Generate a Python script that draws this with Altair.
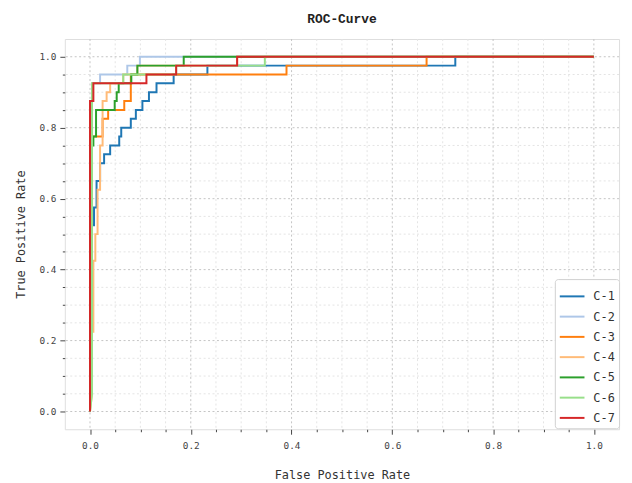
import altair as alt
import pandas as pd

classes = ["C-1", "C-2", "C-3", "C-4", "C-5", "C-6", "C-7"]
colors = ["#1f77b4", "#aec7e8", "#ff7f0e", "#ffbb78", "#2ca02c", "#98df8a", "#d62728"]

fpr_c1 = [0, 0.004, 0.004, 0.008, 0.008, 0.013, 0.013, 0.02, 0.02, 0.028, 0.028, 0.040, 0.040, 0.058, 0.058,
          0.062, 0.062, 0.081, 0.081, 0.091, 0.091, 0.104, 0.104, 0.117, 0.117, 0.132, 0.132, 0.166, 0.166,
          0.233, 0.233, 0.725, 0.725, 1.0]
tpr_c1 = [0, 0.225, 0.525, 0.525, 0.575, 0.575, 0.65, 0.65, 0.7, 0.7, 0.725, 0.725, 0.75, 0.75, 0.775,
          0.775, 0.8, 0.8, 0.825, 0.825, 0.85, 0.85, 0.875, 0.875, 0.9, 0.9, 0.925, 0.925, 0.95,
          0.95, 0.975, 0.975, 1.0, 1.0]

fpr_c2 = [0, 0.004, 0.004, 0.020, 0.020, 0.074, 0.074, 0.099, 0.099, 1.0]
tpr_c2 = [0, 0.225, 0.925, 0.925, 0.95, 0.95, 0.975, 0.975, 1.0, 1.0]

fpr_c3 = [0, 0, 0.025, 0.025, 0.036, 0.036, 0.068, 0.068, 0.081, 0.081, 0.39, 0.39, 0.668, 0.668, 1.0]
tpr_c3 = [0, 0.775, 0.775, 0.825, 0.825, 0.85, 0.85, 0.875, 0.875, 0.95, 0.95, 0.975, 0.975, 1.0, 1.0]

fpr_c4 = [0, 0.004, 0.004, 0.0067, 0.0067, 0.0106, 0.0106, 0.015, 0.015, 0.02, 0.02, 0.025, 0.025, 0.033,
          0.033, 0.04, 0.04, 0.066, 0.066, 0.094, 0.094, 0.292, 0.292, 1.0]
tpr_c4 = [0, 0.05, 0.225, 0.225, 0.425, 0.425, 0.5, 0.5, 0.625, 0.625, 0.75, 0.75, 0.875, 0.875,
          0.9, 0.9, 0.925, 0.925, 0.95, 0.95, 0.975, 0.975, 1.0, 1.0]

fpr_c5 = [0, 0.0, 0.0067, 0.0067, 0.012, 0.012, 0.049, 0.049, 0.053, 0.053, 0.057, 0.057, 0.082, 0.082,
          0.094, 0.094, 0.186, 0.186, 1.0]
tpr_c5 = [0, 0.75, 0.75, 0.775, 0.775, 0.85, 0.85, 0.875, 0.875, 0.9, 0.9, 0.925, 0.925, 0.95,
          0.95, 0.975, 0.975, 1.0, 1.0]

fpr_c6 = [0, 0.004, 0.004, 0.066, 0.066, 0.171, 0.171, 0.347, 0.347, 1.0]
tpr_c6 = [0, 0.05, 0.925, 0.925, 0.95, 0.95, 0.975, 0.975, 1.0, 1.0]

fpr_c7 = [0, 0, 0.0067, 0.0067, 0.112, 0.112, 0.171, 0.171, 0.292, 0.292, 1.0]
tpr_c7 = [0, 0.875, 0.875, 0.925, 0.925, 0.95, 0.95, 0.975, 0.975, 1.0, 1.0]

tick_values = [0.0, 0.05, 0.1, 0.15, 0.2, 0.25, 0.3, 0.35, 0.4, 0.45, 0.5,
               0.55, 0.6, 0.65, 0.7, 0.75, 0.8, 0.85, 0.9, 0.95, 1.0]
major_values = [0.0, 0.2, 0.4, 0.6, 0.8, 1.0]
minor_values = [0.05, 0.1, 0.15, 0.25, 0.3, 0.35, 0.45, 0.5, 0.55, 0.65, 0.7, 0.75, 0.85, 0.9, 0.95]

fprs = [fpr_c1, fpr_c2, fpr_c3, fpr_c4, fpr_c5, fpr_c6, fpr_c7]
tprs = [tpr_c1, tpr_c2, tpr_c3, tpr_c4, tpr_c5, tpr_c6, tpr_c7]

rows = []
for name, f, t in zip(classes, fprs, tprs):
    for i, (a, b) in enumerate(zip(f, t)):
        rows.append({"cls": name, "fpr": a, "tpr": b, "i": i})
df = pd.DataFrame(rows)

grid_df = pd.DataFrame(
    [{"v": v, "kind": "major"} for v in major_values] +
    [{"v": v, "kind": "minor"} for v in minor_values]
)

major = "abs(datum.value*5 - round(datum.value*5)) < 0.001"
mono = "DejaVu Sans Mono"
xscale = alt.Scale(domain=[-0.05, 1.05], nice=False, zero=False)
yscale = alt.Scale(domain=[-0.05, 1.05], nice=False, zero=False)


def make_axis(title, orient):
    return alt.Axis(
        title=title,
        orient=orient,
        values=tick_values,
        labelExpr=f"({major}) ? format(datum.value, '.1f') : ''",
        grid=False,
        tickSize={"condition": {"test": major, "value": 5}, "value": 2.5},
        tickColor="#444",
        tickWidth=1,
        domain=False,
        labelFont=mono,
        labelFontSize=9.5,
        labelColor="#444",
        labelPadding=4 if orient == "left" else 6,
        labelFlush=False,
        titleFont=mono,
        titleFontSize=12,
        titleFontWeight="normal",
        titleColor="#333",
        titlePadding=12 if orient == "left" else 20,
    )


x_axis = make_axis("False Positive Rate", "bottom")
y_axis = make_axis("True Positive Rate", "left")

xenc = alt.X("fpr:Q", scale=xscale, axis=x_axis)
yenc = alt.Y("tpr:Q", scale=yscale, axis=y_axis)
cenc = alt.Color("cls:N", scale=alt.Scale(domain=classes, range=colors),
                 legend=alt.Legend(
                     title=None, orient="none", legendX=496, legendY=243,
                     symbolType="stroke", symbolSize=625, symbolStrokeWidth=2,
                     labelFont=mono, labelFontSize=12, labelColor="#333",
                     fillColor="white", strokeColor="#d0d0d0", cornerRadius=3,
                     padding=4, rowPadding=0.5, labelOffset=8))

grid_base = alt.Chart(grid_df)
gcolor = alt.Color("kind:N", scale=alt.Scale(domain=["major", "minor"], range=["#c4c4c4", "#e4e4e4"]),
                   legend=None)
vgrid = grid_base.mark_rule(strokeDash=[2, 2.5], strokeWidth=1).encode(
    x=alt.X("v:Q", scale=xscale, axis=x_axis), stroke=gcolor)
hgrid = grid_base.mark_rule(strokeDash=[2, 2.5], strokeWidth=1).encode(
    y=alt.Y("v:Q", scale=yscale, axis=y_axis), stroke=gcolor)

base = alt.Chart(df)
layers = [
    base.transform_filter(alt.datum.cls == c).mark_line(
        strokeWidth=2, interpolate="linear", opacity=1
    ).encode(x=xenc, y=yenc, color=cenc, order=alt.Order("i:Q"))
    for c in classes
]

chart = alt.layer(vgrid, hgrid, *layers).resolve_scale(stroke="independent").properties(
    width=561,
    height=395,
    title=alt.TitleParams("ROC-Curve", font="Liberation Mono", fontSize=13, fontWeight="bold",
                          anchor="middle", offset=13, color="#222"),
    autosize=alt.AutoSizeParams(type="none"),
    padding={"left": 57.5, "top": 28.5, "right": 5, "bottom": 51},
).configure_view(
    stroke="#444", strokeWidth=1.5
).configure(background="white")

chart.save("out.html", embed_options={"renderer": "svg", "actions": False})
